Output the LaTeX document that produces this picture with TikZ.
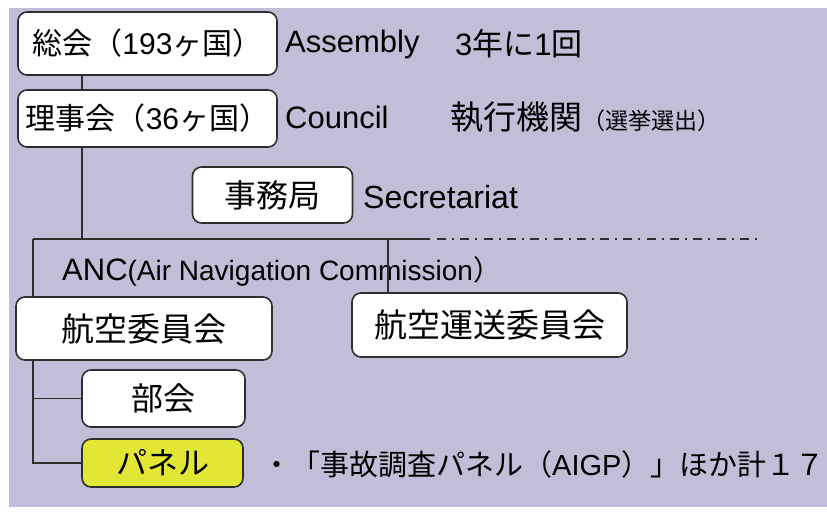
\documentclass[tikz,border=0pt]{standalone}
\usepackage{fontspec}
\setmainfont{Liberation Sans}
\newfontfamily\jp{Noto Sans CJK JP}
\definecolor{bg}{HTML}{C3BED8}
\definecolor{pnl}{HTML}{E2E634}
\definecolor{ln}{HTML}{2E2E2E}
\begin{document}
\begin{tikzpicture}[x=1pt,y=-1pt,
  box/.style={draw=ln, line width=1.6pt, rounded corners=9pt, fill=white, inner sep=0pt, font=\fontsize{30}{30}\selectfont},
  conn/.style={draw=ln, line width=1.6pt},
  lbl/.style={anchor=west, inner sep=0pt, font=\fontsize{31}{31}\selectfont}]
\path[use as bounding box] (0,0) rectangle (827,517);
\fill[white] (0,0) rectangle (827,517);
\fill[bg] (9,8) rectangle (827,507);

\node[box, minimum width=259, minimum height=63] (gen) at (147.5,43.5) {{\jp 総会（}193{\jp ヶ国）}};
\node[box, minimum width=259, minimum height=57] (council) at (147.5,118.5) {{\jp 理事会（}36{\jp ヶ国）}};
\node[box, minimum width=160, minimum height=56, font=\fontsize{32}{32}\selectfont] (sec) at (272.5,195) {\jp 事務局};
\node[box, minimum width=256, minimum height=63, font=\fontsize{33}{33}\selectfont] (anb) at (144,328.5) {\jp 航空委員会};
\node[box, minimum width=275, minimum height=64, font=\fontsize{33}{33}\selectfont] (atc) at (489.5,325) {\jp 航空運送委員会};
\node[box, minimum width=163, minimum height=57, font=\fontsize{32}{32}\selectfont] (bukai) at (163.5,398.5) {\jp 部会};
\node[box, fill=pnl, minimum width=161, minimum height=48, font=\fontsize{31}{31}\selectfont] (panel) at (162.5,463) {\jp パネル};

\node[lbl] (asm) at (285,44) {Assembly};
\node[lbl] (asmf) at (455,44) {3{\jp 年に}1{\jp 回}};
\node[lbl] (cnl) at (285,117) {Council};
\node[lbl] (cnlf) at (450,117) {{\jp\fontsize{33}{33}\selectfont 執行機関}{\jp\fontsize{23}{23}\selectfont （選挙選出）}};
\node[lbl, font=\fontsize{32}{32}\selectfont] (secl) at (363,197) {Secretariat};
\node[lbl] (anc) at (62,271) {ANC{\fontsize{28}{28}\selectfont(Air Navigation Commission{\jp ）}}};
\node[lbl, font=\fontsize{29}{29}\selectfont] (pnll) at (262,464) {{\jp ・「事故調査パネル（}AIGP{\jp ）」ほか計１７}};

\coordinate (c1) at (82,239);
\coordinate (busL) at (33,239);
\coordinate (busM) at (388,239);
\coordinate (busR) at (430,239);
\coordinate (busD) at (437,239);
\coordinate (busE) at (760,239);
\coordinate (p1) at (33,398.5);
\coordinate (p2) at (33,463);

\draw[conn] (gen.south -| c1) -- (council.north -| c1);
\draw[conn] (council.south -| c1) -- (c1);
\draw[conn] (busL) -- (busR);
\draw[conn, line width=2pt, dash pattern=on 9pt off 6pt on 2pt off 6.3pt] (busD) -- (busE);
\draw[conn] (busL) -- (anb.north -| busL);
\draw[conn] (busM) -- (atc.north -| busM);
\draw[conn] (anb.south -| busL) -- (p2) -- (panel.west);
\draw[conn] (p1) -- (bukai.west);
\end{tikzpicture}
\end{document}
